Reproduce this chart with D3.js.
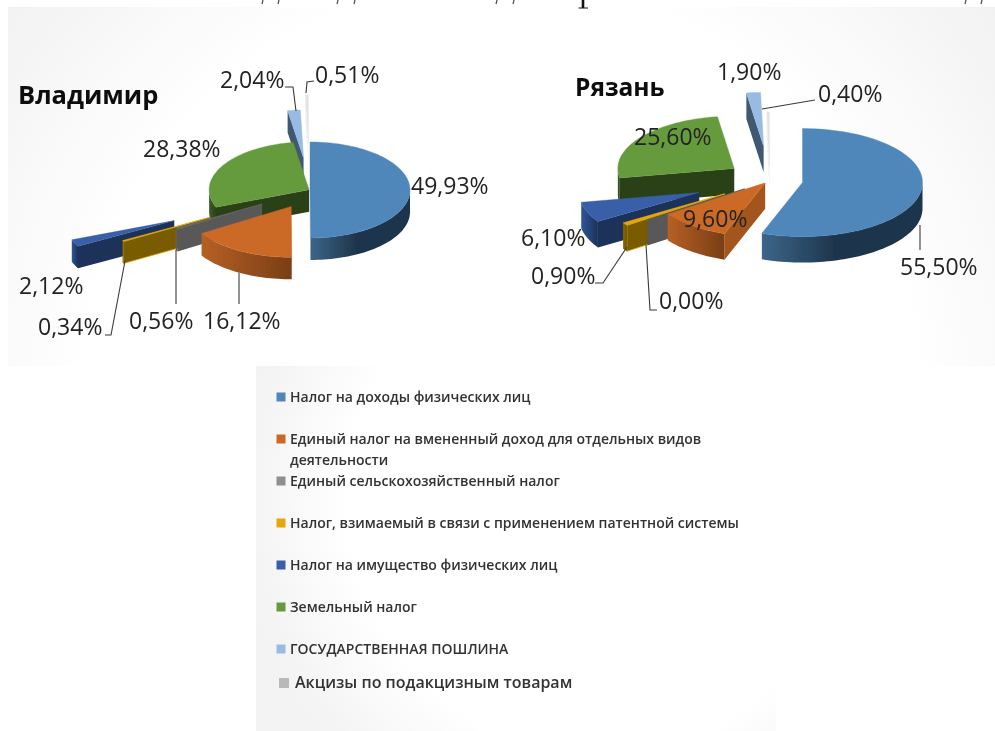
<!DOCTYPE html>
<html><head><meta charset="utf-8">
<script src="https://cdn.jsdelivr.net/npm/d3@7/dist/d3.min.js"></script>
<style>html,body{margin:0;padding:0;background:#fff}svg{display:block}</style></head>
<body><svg id="c" width="995" height="731"></svg>
<script>
const categories=["Налог на доходы физических лиц","Единый налог на вмененный доход для отдельных видов деятельности","Единый сельскохозяйственный налог","Налог, взимаемый в связи с применением патентной системы","Налог на имущество физических лиц","Земельный налог","ГОСУДАРСТВЕННАЯ ПОШЛИНА","Акцизы по подакцизным товарам"];
const vladimirValues=[49.93,16.12,0.56,0.34,2.12,28.38,2.04,0.51];
const ryazanValues=[55.5,9.6,0,0.9,6.1,25.6,1.9,0.4];
const topColors=["#4f87bb","#cb6a27","#6a6a6a","#e5a70a","#375fa8","#659b3e","#97bbe2","#e4e4e4"];
const legendColors=["#4f87bb","#cb6a27","#8f8f8f","#e5a70a","#375fa8","#659b3e","#97bbe2","#b9b9b9"];
const faceColors=["#223a52","#a3551d","#595959","#7a5c00","#1a3058","#2b4018","#40586f","#f2f2f2"];
const rimStart=["#3c6689","#b66024","#666","#8a6a00","#2f5698","#3c5e22","#5b7894","#f4f4f4"];
const rimEnd=["#1f364d","#7a3e15","#555","#705400","#1b3259","#2b4018","#40586f","#eee"];

const svg=d3.select("#c");
const defs=svg.append("defs");
const blur=defs.append("filter").attr("id","soft").attr("x","-5%").attr("y","-5%").attr("width","110%").attr("height","110%");
blur.append("feGaussianBlur").attr("stdDeviation",0.45);
const blurL=defs.append("filter").attr("id","softL").attr("x","-5%").attr("y","-20%").attr("width","110%").attr("height","140%");
blurL.append("feGaussianBlur").attr("stdDeviation",0.5);

function radial(id,cx,cy,r,start,edge){
  const g=defs.append("radialGradient").attr("id",id).attr("gradientUnits","userSpaceOnUse").attr("cx",cx).attr("cy",cy).attr("r",r);
  g.append("stop").attr("offset",start).attr("stop-color","#fff");
  g.append("stop").attr("offset",1).attr("stop-color",edge);
}
radial("bgTop",500,400,630,0.66,"#f2f2f2");
radial("bgLeg",600,500,360,0.7,"#f3f3f3");
svg.append("rect").attr("x",8).attr("y",7).attr("width",987).attr("height",359).attr("fill","url(#bgTop)");
svg.append("rect").attr("x",256).attr("y",366).attr("width",520).attr("height",365).attr("fill","url(#bgLeg)");

// unreadable remains of a page text line cropped by the top edge: only its feet show
const cropFeet=[[263,4],[279,4],[338,4],[355,4],[497,4],[514,4],[966,4],[982,4]];
const line=d3.line();
svg.append("g").selectAll("path").data(cropFeet).join("path")
  .attr("d",d=>line([[d[0],0],[d[0]-1,d[1]]])).attr("stroke","#444").attr("stroke-width",1.2).attr("fill","none");
svg.append("path").attr("d",line([[583,0],[583,8]])).attr("stroke","#111").attr("stroke-width",2.6);
svg.append("path").attr("d",line([[578.5,8],[588,8]])).attr("stroke","#111").attr("stroke-width",1);

const color=d3.scaleOrdinal(categories,topColors);
const legendColor=d3.scaleOrdinal(categories,legendColors);
const face=d3.scaleOrdinal(categories,faceColors);
categories.forEach((c,i)=>{
  const g=defs.append("linearGradient").attr("id","rim"+i);
  g.append("stop").attr("offset",0).attr("stop-color",rimStart[i]);
  g.append("stop").attr("offset",i===0?0.45:1).attr("stop-color",rimEnd[i]);
  if(i===0) g.append("stop").attr("offset",1).attr("stop-color",rimEnd[i]);
});

const pie=d3.pie().sort(null).value(d=>d.v);
const fmt=d3.formatLocale({decimal:",",thousands:" ",grouping:[3],currency:["","₽"]}).format(".2f");
const RAD=Math.PI/180;

function drawPie(values,o){
  const P=(a,r,e,dz=0)=>{const m=o.mid[e.index],R=r*o.rs[e.index];
    return [o.cx+o.ex[e.index]*Math.sin(m)+R*Math.sin(a), o.cy-o.k*o.ex[e.index]*Math.cos(m)-o.k*R*Math.cos(a)+dz];};
  const arcs=pie(values.map((v,i)=>({v,c:categories[i]})));
  o.mid=arcs.map(d=>(d.startAngle+d.endAngle)/2);
  const g=svg.append("g").attr("filter","url(#soft)");
  arcs.slice().reverse().forEach(d=>{
    const a=d.startAngle,b=d.endAngle,c=d.data.c,i=d.index;
    const cut=t=>[P(0,0,d),P(t,o.r,d),P(t,o.r,d,o.depth),P(0,0,d,o.depth)];
    if(Math.sin(a)<0.02) g.append("path").attr("d",line(cut(a))+"Z").attr("fill",face(c)).attr("stroke",i===3?color(c):"none").attr("stroke-width",i===3?0.8:0);
    if(Math.sin(b)>0.02) g.append("path").attr("d",line(cut(b))+"Z").attr("fill",face(c));
    const lo=Math.max(a,Math.PI/2),hi=Math.min(b,Math.PI*1.5);
    if(hi>lo){
      const n=Math.max(2,Math.ceil((hi-lo)/(2*RAD)));
      const ts=d3.range(n+1).map(j=>lo+(hi-lo)*j/n);
      const pts=ts.map(t=>P(t,o.r,d)).concat(ts.slice().reverse().map(t=>P(t,o.r,d,o.depth)));
      g.append("path").attr("d",line(pts)+"Z").attr("fill",`url(#rim${i})`);
    }
    if(b>a){
      const n=Math.max(2,Math.ceil((b-a)/(2*RAD)));
      const ts=d3.range(n+1).map(j=>a+(b-a)*j/n);
      g.append("path").attr("d",line([P(0,0,d),...ts.map(t=>P(t,o.r,d))])+"Z").attr("fill",color(c)).attr("stroke",color(c)).attr("stroke-width",0.4);
    }
  });
  const t=svg.append("g").attr("filter","url(#softL)");
  o.leaders.forEach(l=>t.append("path").attr("d",line(l)).attr("fill","none").attr("stroke","#3a3a3a").attr("stroke-width",1.1));
  arcs.forEach(d=>{
    const [x,y]=o.labels[d.index];
    t.append("text").attr("x",x).attr("y",y).attr("font-family","'Open Sans',sans-serif").attr("font-size",o.fs).attr("fill","#222").text(fmt(d.data.v)+"%");
  });
  t.append("text").attr("x",o.title[1]).attr("y",o.title[2]).attr("font-family","'Open Sans',sans-serif").attr("font-weight",700).attr("font-size",o.titleFs).attr("fill","#0b0b0b").text(o.title[0]);
}

drawPie(vladimirValues,{cx:310,cy:190,r:100,k:0.48,depth:22,fs:23,titleFs:25.5,
  ex:[0,39,56,115,150,1,67,98],
  rs:[1,1.06,1,1,1.1,1,1,1],
  title:["Владимир",18,104],
  labels:[[411,194],[203,329],[129,329],[38,335],[19,294],[143,157],[220,88],[315,83]],
  leaders:[[[285,87],[293,87],[296,111]],[[314,81],[307,82],[306,93]],[[105,335],[111,335],[125,261]],[[176,250],[176,304]],[[239,273],[239,304]]]});
drawPie(ryazanValues,{cx:770,cy:180,r:120,k:0.45,depth:26,fs:23,titleFs:24.5,
  ex:[33,8,31,55,76,44,75,31],
  rs:[1,1,1,1,1,0.97,1,1],
  title:["Рязань",575,96],
  labels:[[900,275],[683,227],[659,309],[531,284],[521,246],[634,145],[717,80],[818,102]],
  leaders:[[[815,100],[762,109]],[[920,225],[920,250]],[[595,283],[603,283],[627,247]],[[657,310],[650,310],[646,245]]]});

const legendY=[397,439,481,523,565,607,649,683];
const lg=svg.append("g").attr("filter","url(#softL)");
categories.forEach((c,i)=>{
  const last=i===7;
  const s=last?10:9;
  lg.append("rect").attr("x",last?279:276.5).attr("y",legendY[i]-s/2).attr("width",s).attr("height",s).attr("fill",legendColor(c));
  const lines=i===1?["Единый налог на вмененный доход для отдельных видов","деятельности"]:[c];
  lines.forEach((l,j)=>lg.append("text").attr("x",last?295:290).attr("y",legendY[i]+4.5+j*21)
    .attr("font-family","'Open Sans',sans-serif").attr("font-weight",600).attr("font-size",last?16:14).attr("fill","#333").text(l));
});
</script></body></html>
